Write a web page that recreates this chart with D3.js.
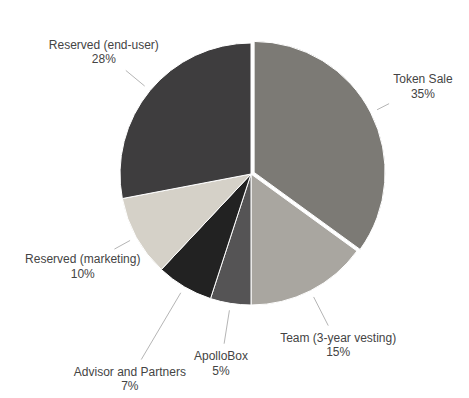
<!DOCTYPE html>
<html>
<head>
<meta charset="utf-8">
<script src="https://cdn.jsdelivr.net/npm/d3@7"></script>
<style>
  html, body { margin: 0; padding: 0; background: #fff; }
  svg { display: block; }
</style>
</head>
<body>
<svg id="chart" width="469" height="398"></svg>
<script>
// ---- data ----
const categories = ["Token Sale", "Team (3-year vesting)", "ApolloBox", "Advisor and Partners", "Reserved (marketing)", "Reserved (end-user)"];
const values = [35, 15, 5, 7, 10, 28];
const percentLabels = ["35%", "15%", "5%", "7%", "10%", "28%"];

// ---- layout / style ----
const colors = ["#7c7a75", "#a9a6a0", "#555455", "#222222", "#d5d1c8", "#3e3d3e"];
const cx = 251, cy = 174, R = 131;
const explodeIndex = 0, explodeDist = 3.5;
const labelRadii = [193, 192, 192, 238, 192, 191];

const svg = d3.select("#chart");
const g = svg.append("g").attr("transform", `translate(${cx},${cy})`);

const data = categories.map((c, i) => ({ name: c, value: values[i], pct: percentLabels[i], i }));
const pie = d3.pie().value(d => d.value).sort(null);
const arcs = pie(data);
const arc = d3.arc().innerRadius(0).outerRadius(R);

function dirOf(a) {
  const m = (a.startAngle + a.endAngle) / 2;
  return [Math.sin(m), -Math.cos(m)];
}

g.selectAll("path.slice").data(arcs).enter().append("path")
  .attr("class", "slice")
  .attr("d", arc)
  .attr("fill", d => colors[d.data.i])
  .attr("stroke", "#fff")
  .attr("stroke-width", 1)
  .attr("transform", d => {
    if (d.data.i !== explodeIndex) return null;
    const [dx, dy] = dirOf(d);
    return `translate(${dx * explodeDist},${dy * explodeDist})`;
  });

// labels
const fontSize = 12;
const labels = g.selectAll("g.label").data(arcs).enter().append("g").attr("class", "label");

labels.each(function(d) {
  const [dx, dy] = dirOf(d);
  const lr = labelRadii[d.data.i];
  const lx = dx * lr, ly = dy * lr;
  const sel = d3.select(this);
  const t = sel.append("text")
    .attr("x", lx).attr("y", ly)
    .attr("text-anchor", "middle")
    .attr("font-family", "'Liberation Sans', Arial, Helvetica, sans-serif")
    .attr("font-size", fontSize)
    .attr("fill", "#444");
  t.append("tspan").attr("x", lx).attr("dy", "-0.2em").text(d.data.name);
  t.append("tspan").attr("x", lx).attr("dy", "1.2em").text(d.data.pct);
  const bb = t.node().getBBox();
  const hw = bb.width / 2, hh = 15;
  const exit = Math.min(hw / Math.max(Math.abs(dx), 1e-6), hh / Math.max(Math.abs(dy), 1e-6));
  const endR = lr - exit - 5;
  const startR = R + 7 + (d.data.i === explodeIndex ? explodeDist : 0);
  sel.insert("line", "text")
    .attr("x1", dx * startR).attr("y1", dy * startR)
    .attr("x2", dx * endR).attr("y2", dy * endR)
    .attr("stroke", "#b5b5b5")
    .attr("stroke-width", 1);
  // center text vertically on label point
  const bb2 = t.node().getBBox();
  const shift = ly - (bb2.y + bb2.height / 2);
  t.attr("transform", `translate(0,${shift})`);
});
</script>
</body>
</html>
